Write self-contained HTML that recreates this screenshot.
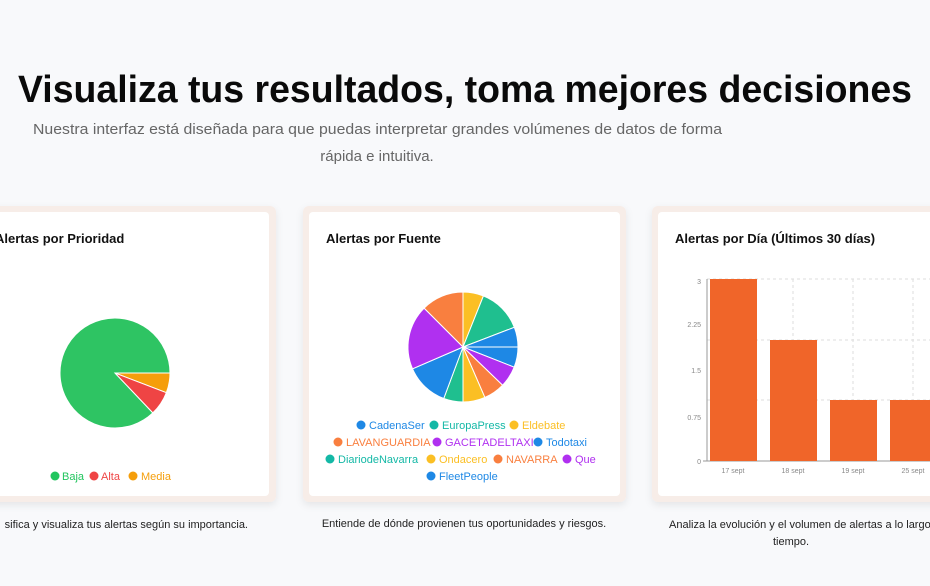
<!DOCTYPE html>
<html><head><meta charset="utf-8"><style>
html,body{margin:0;padding:0;background:#f8f9fb;width:930px;height:586px;overflow:hidden}
svg{display:block}
text{font-family:"Liberation Sans",sans-serif}
</style></head><body>
<svg id="s" width="930" height="586" viewBox="0 0 930 586" xmlns="http://www.w3.org/2000/svg">
<defs><filter id="sh" x="-10%" y="-10%" width="120%" height="120%"><feDropShadow dx="0" dy="3" stdDeviation="4" flood-color="#000" flood-opacity="0.08"/></filter></defs>
<text x="18" y="102" font-size="38" font-weight="bold" fill="#0a0a0a" textLength="894" lengthAdjust="spacingAndGlyphs">Visualiza tus resultados, toma mejores decisiones</text>
<text x="33" y="134" font-size="15" fill="#666" textLength="689" lengthAdjust="spacingAndGlyphs">Nuestra interfaz está diseñada para que puedas interpretar grandes volúmenes de datos de forma</text>
<text x="377" y="161" font-size="15" fill="#666" text-anchor="middle">rápida e intuitiva.</text>

<!-- cards -->
<rect x="-20" y="206" width="296" height="296" rx="6" fill="#f7ede8" filter="url(#sh)"/>
<rect x="-16" y="212" width="285" height="284" rx="4" fill="#fff"/>
<rect x="303" y="206" width="323" height="296" rx="6" fill="#f7ede8" filter="url(#sh)"/>
<rect x="309" y="212" width="311" height="284" rx="4" fill="#fff"/>
<rect x="652" y="206" width="300" height="296" rx="6" fill="#f7ede8" filter="url(#sh)"/>
<rect x="658" y="212" width="290" height="284" rx="4" fill="#fff"/>

<text x="-5" y="243" font-size="13" font-weight="bold" fill="#111">Alertas por Prioridad</text>
<text x="326" y="243" font-size="13" font-weight="bold" fill="#111">Alertas por Fuente</text>
<text x="675" y="243" font-size="13" font-weight="bold" fill="#111">Alertas por Día (Últimos 30 días)</text>

<g id="p1"></g><g id="p2"></g>

<!-- legend 1 -->
<g font-size="11">
<circle cx="55" cy="476" r="4.5" fill="#22c55e"/><text x="62" y="480" fill="#22c55e">Baja</text>
<circle cx="94" cy="476" r="4.5" fill="#ef4444"/><text x="101" y="480" fill="#ef4444">Alta</text>
<circle cx="133" cy="476" r="4.5" fill="#f59e0b"/><text x="141" y="480" fill="#f59e0b">Media</text>
</g>
<!-- legend 2 -->
<g font-size="11">
<circle cx="361" cy="425" r="4.5" fill="#1e88e5"/><text x="369" y="429" fill="#1e88e5">CadenaSer</text>
<circle cx="434" cy="425" r="4.5" fill="#14b8a6"/><text x="442" y="429" fill="#14b8a6">EuropaPress</text>
<circle cx="514" cy="425" r="4.5" fill="#fbbf24"/><text x="522" y="429" fill="#fbbf24">Eldebate</text>
<circle cx="338" cy="442" r="4.5" fill="#f97f3f"/><text x="346" y="446" fill="#f97f3f">LAVANGUARDIA</text>
<circle cx="437" cy="442" r="4.5" fill="#b030f0"/><text x="445" y="446" fill="#b030f0">GACETADELTAXI</text>
<circle cx="538" cy="442" r="4.5" fill="#1e88e5"/><text x="546" y="446" fill="#1e88e5">Todotaxi</text>
<circle cx="330" cy="459" r="4.5" fill="#14b8a6"/><text x="338" y="463" fill="#14b8a6">DiariodeNavarra</text>
<circle cx="431" cy="459" r="4.5" fill="#fbbf24"/><text x="439" y="463" fill="#fbbf24">Ondacero</text>
<circle cx="498" cy="459" r="4.5" fill="#f97f3f"/><text x="506" y="463" fill="#f97f3f">NAVARRA</text>
<circle cx="567" cy="459" r="4.5" fill="#b030f0"/><text x="575" y="463" fill="#b030f0">Que</text>
<circle cx="431" cy="476" r="4.5" fill="#1e88e5"/><text x="439" y="480" fill="#1e88e5">FleetPeople</text>
</g>

<!-- bar chart -->
<g stroke="#ddd" stroke-dasharray="3,3" stroke-width="1">
<line x1="707" y1="279" x2="930" y2="279"/><line x1="707" y1="340" x2="930" y2="340"/><line x1="707" y1="400" x2="930" y2="400"/>
<line x1="733" y1="279" x2="733" y2="461"/><line x1="793" y1="279" x2="793" y2="461"/><line x1="853" y1="279" x2="853" y2="461"/><line x1="913" y1="279" x2="913" y2="461"/>
</g>
<line x1="707" y1="279" x2="707" y2="461" stroke="#999"/>
<line x1="703" y1="461" x2="930" y2="461" stroke="#999"/>
<g fill="#f06529">
<rect x="710" y="279" width="47" height="182"/>
<rect x="770" y="340" width="47" height="121"/>
<rect x="830" y="400" width="47" height="61"/>
<rect x="890" y="400" width="47" height="61"/>
</g>
<g font-size="7" fill="#888" text-anchor="end">
<text x="701" y="284">3</text><text x="701" y="327">2.25</text><text x="701" y="373">1.5</text><text x="701" y="420">0.75</text><text x="701" y="464">0</text>
</g>
<g font-size="7" fill="#888" text-anchor="middle">
<text x="733" y="473">17 sept</text><text x="793" y="473">18 sept</text><text x="853" y="473">19 sept</text><text x="913" y="473">25 sept</text>
</g>

<text x="248" y="528" font-size="11" fill="#222" text-anchor="end">sifica y visualiza tus alertas según su importancia.</text>
<text x="464" y="527" font-size="11" fill="#222" text-anchor="middle">Entiende de dónde provienen tus oportunidades y riesgos.</text>
<text x="669" y="528" font-size="11" fill="#222">Analiza la evolución y el volumen de alertas a lo largo del</text>
<text x="791" y="545" font-size="11" fill="#222" text-anchor="middle">tiempo.</text>
</svg>
<script>
function wedge(cx,cy,r,a0,a1,col){
 const p=a=>[cx+r*Math.sin(a*Math.PI/180),cy-r*Math.cos(a*Math.PI/180)];
 const [x0,y0]=p(a0),[x1,y1]=p(a1);
 return '<path d="M'+cx+','+cy+' L'+x0+','+y0+' A'+r+','+r+' 0 '+((a1-a0)>180?1:0)+' 1 '+x1+','+y1+' Z" fill="'+col+'" stroke="#fff" stroke-width="1"/>';
}
let h='';
h+=wedge(115,373,55,136.5,450,'#2ec463');
h+=wedge(115,373,55,90,111,'#f59e0b');
h+=wedge(115,373,55,111,136.5,'#ef4444');
document.getElementById('p1').outerHTML='<g>'+h+'</g>';
const b=[0,21.8,69,90,111.5,134,156.6,180,200.5,246.6,315,360];
const c=['#fbbf24','#1fbf8f','#1e88e5','#1e88e5','#b030f0','#f97f3f','#fbbf24','#1fbf8f','#1e88e5','#b030f0','#f97f3f'];
h='';for(let i=0;i<c.length;i++)h+=wedge(463,347,55,b[i],b[i+1],c[i]);
document.getElementById('p2').outerHTML='<g>'+h+'</g>';
</script>
</body></html>
